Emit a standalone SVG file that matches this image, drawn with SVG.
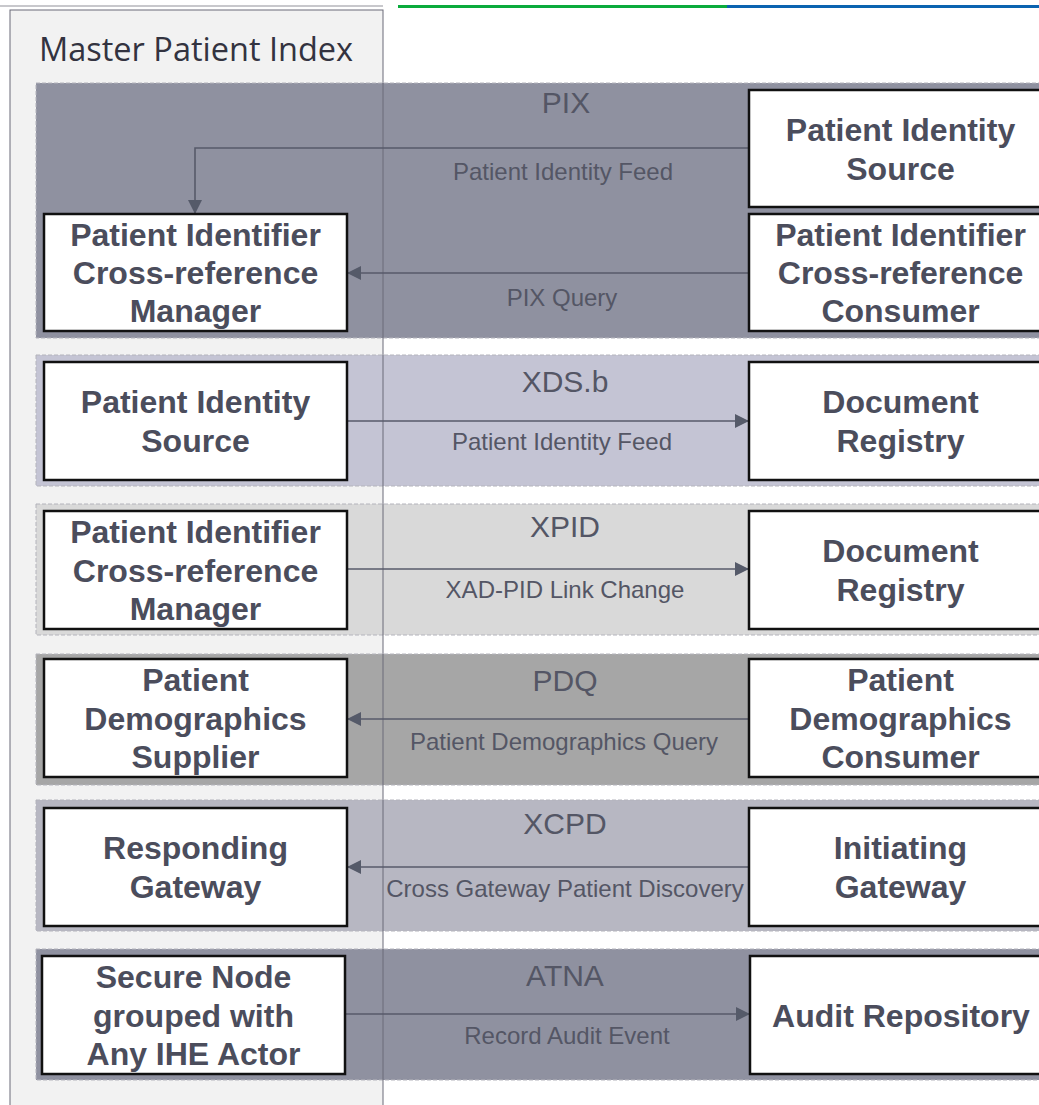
<svg xmlns="http://www.w3.org/2000/svg" width="1039" height="1105" viewBox="0 0 1039 1105">
<style>
.band{stroke:#b4b4bc;stroke-width:1;stroke-dasharray:4 2}
.node{fill:#ffffff;stroke:#111111;stroke-width:2.5}
.nt{font-family:"Liberation Sans",Arial,sans-serif;font-weight:bold;font-size:32px;fill:#4b4d5c;text-anchor:middle}
.tt{font-family:"Liberation Sans",Arial,sans-serif;font-size:30px;fill:#545665;text-anchor:middle}
.lt{font-family:"Liberation Sans",Arial,sans-serif;font-size:24px;fill:#545665;text-anchor:middle}
.edge{fill:none;stroke:#575a6a;stroke-width:1.6}
</style>
<defs>
<marker id="ah" viewBox="0 0 14 14" refX="14" refY="7" markerWidth="14" markerHeight="14" markerUnits="userSpaceOnUse" orient="auto">
<path d="M0,0 L14,7 L0,14 Z" fill="#555a69"/>
</marker>
</defs>
<rect width="1039" height="1105" fill="#ffffff"/>
<!-- top lines -->
<rect x="0" y="5" width="383" height="2" fill="#c8c8cc"/>
<rect x="398" y="5" width="329" height="3" fill="#0aab3c"/>
<rect x="727" y="5" width="312" height="3" fill="#0a63b0"/>
<!-- MPI container -->
<g id="mpi">
<rect x="10" y="10" width="373" height="1110" fill="#f2f2f2"/>
<text x="39" y="61" style="font-family:'Open Sans','Noto Sans',sans-serif;font-size:32.5px;fill:#333340">Master Patient Index</text>
</g>
<!-- bands -->
<g id="band-pix"><rect class="band" x="36" y="83" width="1020" height="255" fill="#8f91a0"/><text class="tt" x="566" y="113">PIX</text></g>
<g id="band-xds"><rect class="band" x="36" y="355" width="1020" height="131" fill="#c4c4d4"/><text class="tt" x="565" y="392">XDS.b</text></g>
<g id="band-xpid"><rect class="band" x="36" y="504" width="1020" height="131" fill="#d9d9d9"/><text class="tt" x="565" y="537">XPID</text></g>
<g id="band-pdq"><rect class="band" x="36" y="654" width="1020" height="131" fill="#a6a6a6"/><text class="tt" x="565" y="691">PDQ</text></g>
<g id="band-xcpd"><rect class="band" x="36" y="800" width="1020" height="131" fill="#b7b7c2"/><text class="tt" x="565" y="834">XCPD</text></g>
<g id="band-atna"><rect class="band" x="36" y="949" width="1020" height="131" fill="#8f91a0"/><text class="tt" x="565" y="986">ATNA</text></g>
<!-- MPI outline on top -->
<rect x="10" y="10" width="373" height="1110" fill="none" stroke="#6a6a78" stroke-width="1"/>
<!-- connectors -->
<g id="connectors">
<path class="edge" d="M749,148 H195 V214" marker-end="url(#ah)"/>
<text class="lt" x="563" y="180">Patient Identity Feed</text>
<path class="edge" d="M749,273 H347" marker-end="url(#ah)"/>
<text class="lt" x="562" y="306">PIX Query</text>
<path class="edge" d="M347,421 H749" marker-end="url(#ah)"/>
<text class="lt" x="562" y="450">Patient Identity Feed</text>
<path class="edge" d="M347,569 H749" marker-end="url(#ah)"/>
<text class="lt" x="565" y="598">XAD-PID Link Change</text>
<path class="edge" d="M749,719 H347" marker-end="url(#ah)"/>
<text class="lt" x="564" y="750">Patient Demographics Query</text>
<path class="edge" d="M749,867 H347" marker-end="url(#ah)"/>
<text class="lt" x="565" y="897">Cross Gateway Patient Discovery</text>
<path class="edge" d="M345,1014 H750" marker-end="url(#ah)"/>
<text class="lt" x="567" y="1044">Record Audit Event</text>
</g>
<!-- nodes -->
<g id="pix-mgr"><rect class="node" x="44" y="214" width="303" height="117"/>
<text class="nt" x="195.5" y="245.5">Patient Identifier</text><text class="nt" x="195.5" y="284">Cross-reference</text><text class="nt" x="195.5" y="322">Manager</text></g>
<g id="pix-src"><rect class="node" x="749" y="90" width="303" height="117"/>
<text class="nt" x="900.5" y="141">Patient Identity</text><text class="nt" x="900.5" y="179.5">Source</text></g>
<g id="pix-cons"><rect class="node" x="749" y="214" width="303" height="117"/>
<text class="nt" x="900.5" y="245.5">Patient Identifier</text><text class="nt" x="900.5" y="284">Cross-reference</text><text class="nt" x="900.5" y="322">Consumer</text></g>
<g id="xds-src"><rect class="node" x="44" y="362" width="303" height="118"/>
<text class="nt" x="195.5" y="413">Patient Identity</text><text class="nt" x="195.5" y="451.5">Source</text></g>
<g id="xds-reg"><rect class="node" x="749" y="362" width="303" height="118"/>
<text class="nt" x="900.5" y="413">Document</text><text class="nt" x="900.5" y="451.5">Registry</text></g>
<g id="xpid-mgr"><rect class="node" x="44" y="511" width="303" height="118"/>
<text class="nt" x="195.5" y="543">Patient Identifier</text><text class="nt" x="195.5" y="581.5">Cross-reference</text><text class="nt" x="195.5" y="620">Manager</text></g>
<g id="xpid-reg"><rect class="node" x="749" y="511" width="303" height="118"/>
<text class="nt" x="900.5" y="562">Document</text><text class="nt" x="900.5" y="600.5">Registry</text></g>
<g id="pdq-sup"><rect class="node" x="44" y="659" width="303" height="118"/>
<text class="nt" x="195.5" y="691">Patient</text><text class="nt" x="195.5" y="729.5">Demographics</text><text class="nt" x="195.5" y="768">Supplier</text></g>
<g id="pdq-cons"><rect class="node" x="749" y="659" width="303" height="118"/>
<text class="nt" x="900.5" y="691">Patient</text><text class="nt" x="900.5" y="729.5">Demographics</text><text class="nt" x="900.5" y="768">Consumer</text></g>
<g id="xcpd-resp"><rect class="node" x="44" y="808" width="303" height="118"/>
<text class="nt" x="195.5" y="859">Responding</text><text class="nt" x="195.5" y="897.5">Gateway</text></g>
<g id="xcpd-init"><rect class="node" x="749" y="808" width="303" height="118"/>
<text class="nt" x="900.5" y="859">Initiating</text><text class="nt" x="900.5" y="897.5">Gateway</text></g>
<g id="atna-node"><rect class="node" x="42" y="956" width="303" height="118"/>
<text class="nt" x="193.5" y="988">Secure Node</text><text class="nt" x="193.5" y="1026.5">grouped with</text><text class="nt" x="193.5" y="1065">Any IHE Actor</text></g>
<g id="atna-repo"><rect class="node" x="750" y="956" width="303" height="118"/>
<text class="nt" x="901" y="1027">Audit Repository</text></g>
</svg>
